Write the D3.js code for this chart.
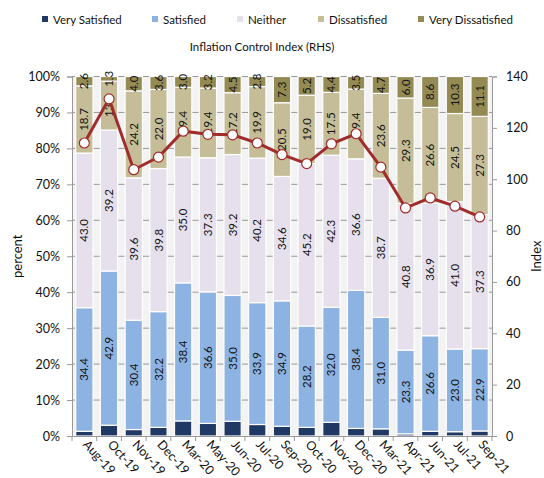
<!DOCTYPE html>
<html>
<head>
<meta charset="utf-8">
<script src="https://cdn.jsdelivr.net/npm/d3@7"></script>
<style>
  body { margin: 0; background: #fff; }
  svg { font-family: Lato, "Liberation Sans", sans-serif; }
</style>
</head>
<body>
<div id="chart"></div>
<script>
var categories = ["Aug-19", "Oct-19", "Nov-19", "Dec-19", "Mar-20", "May-20", "Jun-20", "Jul-20", "Sep-20",
    "Oct-20", "Nov-20", "Dec-20", "Mar-21", "Apr-21", "Jun-21", "Jul-21", "Sep-21"];

var verySatisfied = [1.3, 3.0, 1.8, 2.4, 4.2, 3.5, 4.1, 3.2, 2.7, 2.4, 3.8, 2.1, 2.0, 0.6, 1.3, 1.2, 1.4];
var satisfied = [34.4, 42.9, 30.4, 32.2, 38.4, 36.6, 35.0, 33.9, 34.9, 28.2, 32.0, 38.4, 31.0, 23.3, 26.6, 23.0, 22.9];
var neither = [43.0, 39.2, 39.6, 39.8, 35.0, 37.3, 39.2, 40.2, 34.6, 45.2, 42.3, 36.6, 38.7, 40.8, 36.9, 41.0, 37.3];
var dissatisfied = [18.7, 13.6, 24.2, 22.0, 19.4, 19.4, 17.2, 19.9, 20.5, 19.0, 17.5, 19.4, 23.6, 29.3, 26.6, 24.5, 27.3];
var veryDissatisfied = [2.6, 1.3, 4.0, 3.6, 3.0, 3.2, 4.5, 2.8, 7.3, 5.2, 4.4, 3.5, 4.7, 6.0, 8.6, 10.3, 11.1];
var inflationIndex = [114.1, 131.3, 103.7, 108.6, 118.7, 117.5, 117.3, 114.1, 109.6, 106.1, 113.8, 117.7, 104.7, 88.8, 92.7, 89.5, 85.3];

var seriesNames = ["Very Satisfied", "Satisfied", "Neither", "Dissatisfied", "Very Dissatisfied"];
var seriesValues = [verySatisfied, satisfied, neither, dissatisfied, veryDissatisfied];
var seriesColors = ["#1f3864", "#8db3e2", "#e6e0ec", "#c4bd97", "#948a54"];
var leftTicks = [0, 10, 20, 30, 40, 50, 60, 70, 80, 90, 100];
var rightTicks = [0, 20, 40, 60, 80, 100, 120, 140];

var width = 544, height = 478;
var margin = { top: 76.5, right: 52, bottom: 42, left: 72 };
var innerW = width - margin.left - margin.right;
var innerH = height - margin.top - margin.bottom;

var svg = d3.select("#chart").append("svg")
    .attr("width", width)
    .attr("height", height);

// table for stacking
var table = categories.map(function (c, i) {
    var row = { cat: c };
    seriesNames.forEach(function (s, j) { row[s] = seriesValues[j][i]; });
    return row;
});
var stacked = d3.stack().keys(seriesNames)(table);

var x = d3.scaleBand().domain(categories).range([0, innerW]).paddingInner(0.3).paddingOuter(0.15);
var y = d3.scaleLinear().domain([0, 100]).range([innerH, 0]);
var yR = d3.scaleLinear().domain([0, 140]).range([innerH, 0]);

var g = svg.append("g").attr("transform", "translate(" + margin.left + "," + margin.top + ")");

// light background in gaps
g.append("rect").attr("width", innerW).attr("height", innerH).attr("fill", "#f3f3f3");

// gridlines
g.append("g").selectAll("line").data(leftTicks.slice(1)).join("line")
    .attr("x1", 0).attr("x2", innerW)
    .attr("y1", function (d) { return y(d); }).attr("y2", function (d) { return y(d); })
    .attr("stroke", "#9a9a9a").attr("stroke-width", 1);

// bars
var layers = g.append("g").selectAll("g").data(stacked).join("g")
    .attr("fill", function (d, i) { return seriesColors[i]; });

layers.selectAll("rect").data(function (d) { return d; }).join("rect")
    .attr("x", function (d) { return x(d.data.cat); })
    .attr("width", x.bandwidth())
    .attr("y", function (d) { return y(d[1]); })
    .attr("height", function (d) { return y(d[0]) - y(d[1]); })
    .attr("stroke", "#ffffff")
    .attr("stroke-width", 1.2);

// value labels (not for very satisfied)
stacked.slice(1).forEach(function (layer) {
    g.append("g").selectAll("text").data(layer).join("text")
        .attr("transform", function (d) {
            var cx = x(d.data.cat) + x.bandwidth() / 2;
            var cy = (y(d[0]) + y(d[1])) / 2;
            return "translate(" + cx + "," + cy + ") rotate(-90)";
        })
        .attr("text-anchor", "middle")
        .attr("dy", "0.35em")
        .attr("font-size", 11.5)
        .attr("fill", "#111")
        .text(function (d) { return (d[1] - d[0]).toFixed(1); });
});

// left axis
var leftAxis = g.append("g")
    .call(d3.axisLeft(y).tickValues(leftTicks).tickSize(5).tickFormat(function (d) { return d + "%"; }));
leftAxis.select(".domain").attr("stroke", "#999");
leftAxis.selectAll(".tick line").attr("stroke", "#999");
leftAxis.selectAll("text").attr("font-size", 12.5).attr("fill", "#111").attr("font-family", "Lato, sans-serif").attr("dx", "-4");

// right axis
var rightAxis = g.append("g").attr("transform", "translate(" + innerW + ",0)")
    .call(d3.axisRight(yR).tickValues(rightTicks).tickSize(5));
rightAxis.select(".domain").attr("stroke", "#999");
rightAxis.selectAll(".tick line").attr("stroke", "#999");
rightAxis.selectAll("text").attr("font-size", 12.5).attr("fill", "#111").attr("font-family", "Lato, sans-serif").attr("dx", "6");

// bottom axis
var bottomAxis = g.append("g").attr("transform", "translate(0," + innerH + ")")
    .call(d3.axisBottom(x).tickSize(0).tickFormat(""));
bottomAxis.select(".domain").attr("stroke", "#999");
var step = x.step();
g.append("g").selectAll("line").data(d3.range(categories.length + 1)).join("line")
    .attr("x1", function (i) { return x(categories[0]) - (step - x.bandwidth()) / 2 + i * step; })
    .attr("x2", function (i) { return x(categories[0]) - (step - x.bandwidth()) / 2 + i * step; })
    .attr("y1", innerH).attr("y2", innerH + 5)
    .attr("stroke", "#999");

g.append("g").selectAll("text").data(categories).join("text")
    .attr("transform", function (d) {
        return "translate(" + (x(d) + x.bandwidth() / 2 - 2) + "," + (innerH + 9) + ") rotate(48)";
    })
    .attr("font-size", 12.5)
    .attr("fill", "#111")
    .text(function (d) { return d; });

// index line
var line = d3.line()
    .x(function (d, i) { return x(categories[i]) + x.bandwidth() / 2; })
    .y(function (d) { return yR(d); });

g.append("path").datum(inflationIndex)
    .attr("d", line)
    .attr("fill", "none")
    .attr("stroke", "#a02c2c")
    .attr("stroke-width", 3);

g.append("g").selectAll("circle").data(inflationIndex).join("circle")
    .attr("cx", function (d, i) { return x(categories[i]) + x.bandwidth() / 2; })
    .attr("cy", function (d) { return yR(d); })
    .attr("r", 5)
    .attr("fill", "#fff")
    .attr("stroke", "#a02c2c")
    .attr("stroke-width", 1.2);

// axis titles
svg.append("text")
    .attr("transform", "translate(22," + (margin.top + innerH / 2) + ") rotate(-90)")
    .attr("text-anchor", "middle")
    .attr("font-size", 13)
    .attr("fill", "#111")
    .text("percent");

svg.append("text")
    .attr("transform", "translate(541," + (margin.top + innerH / 2) + ") rotate(-90)")
    .attr("text-anchor", "middle")
    .attr("font-size", 13)
    .attr("fill", "#111")
    .text("Index");

// legend
var legendX = [42, 152, 237, 318, 418];
var legend = svg.append("g").selectAll("g").data(seriesNames).join("g")
    .attr("transform", function (d, i) { return "translate(" + legendX[i] + ",20)"; });
legend.append("rect")
    .attr("x", 0).attr("y", -4).attr("width", 6).attr("height", 6)
    .attr("fill", function (d, i) { return seriesColors[i]; });
legend.append("text")
    .attr("x", 11).attr("y", 0).attr("dy", "0.35em")
    .attr("font-size", 11.5)
    .attr("fill", "#111")
    .text(function (d) { return d; });

svg.append("text")
    .attr("x", 262).attr("y", 51)
    .attr("text-anchor", "middle")
    .attr("font-size", 11.5)
    .attr("fill", "#111")
    .text("Inflation Control Index (RHS)");
</script>
</body>
</html>
